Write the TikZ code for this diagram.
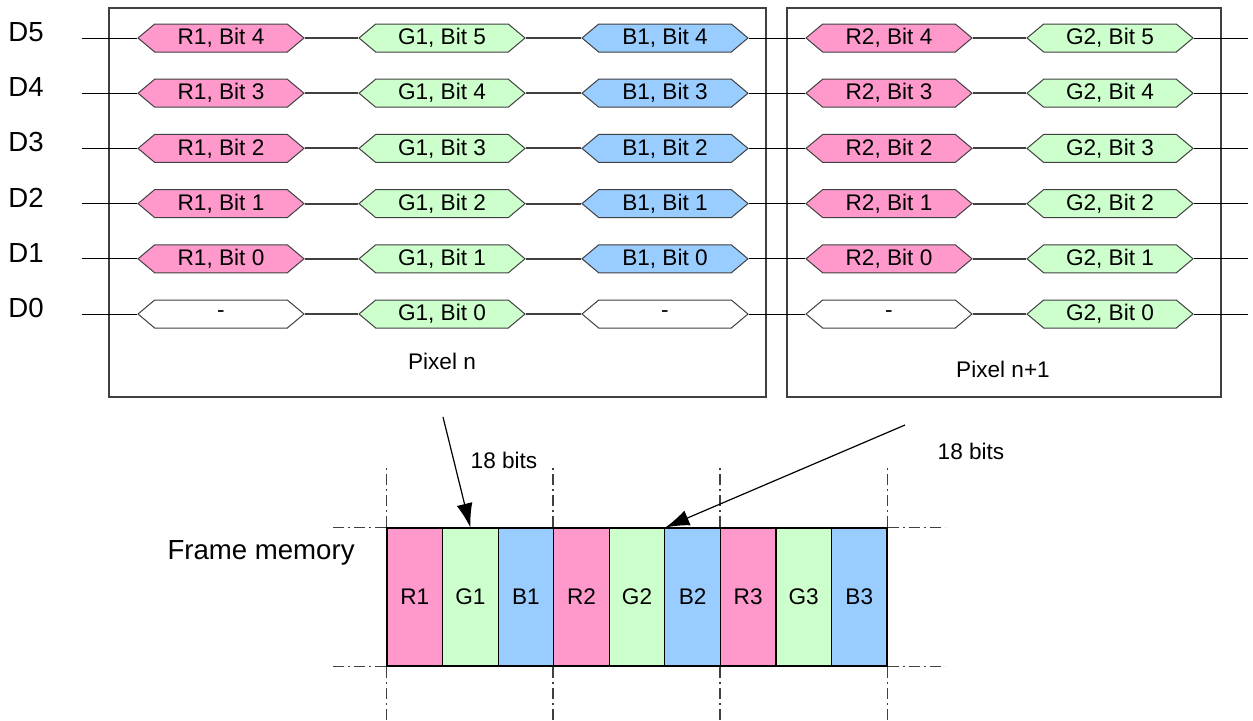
\documentclass[tikz,border=0pt]{standalone}
\usepackage{fontspec}
\setmainfont{Liberation Sans}
\usetikzlibrary{shapes.symbols,arrows.meta}
\definecolor{redbit}{HTML}{FF99CC}
\definecolor{greenbit}{HTML}{CCFFCC}
\definecolor{bluebit}{HTML}{99CCFF}
\definecolor{edge}{HTML}{404040}

\begin{document}
\begin{tikzpicture}[x=0.5pt, y=-0.5pt,
  bit/.style={shape=signal, signal to=east and west, signal pointer angle=80, draw=edge, line width=0.5pt, fill=#1, minimum width=83pt, minimum height=14pt, inner sep=0pt, font=\fontsize{11.3}{13}\selectfont},
  pixbox/.style={draw=edge, line width=0.6pt, minimum width=#1, minimum height=194.5pt, inner sep=0pt},
  cell/.style={draw=black, line width=0.6pt, fill=#1, minimum width=27.78pt, minimum height=69pt, inner sep=0pt, font=\fontsize{11.3}{13}\selectfont},
  wire/.style={line width=0.5pt},
  bus/.style={line width=1pt, draw=edge},
  guide/.style={draw=edge, line width=0.8pt, dash pattern=on 5.5pt off 2pt on 1pt off 2pt},
  ptr/.style={-{Latex[length=12pt,width=8pt]}, line width=0.6pt},
  lbl/.style={font=\fontsize{11.3}{13}\selectfont},
  big/.style={font=\fontsize{13.8}{16}\selectfont, inner sep=0pt}
]
\useasboundingbox (0,0) rectangle (1253,720);

% Pixel frames
\node[pixbox=328.5pt] (pixn) at (437.5,202.5) {};
\node[pixbox=217pt] (pixnn) at (1004,202.5) {};
\node[lbl] (pixnlbl) at (442,361) {Pixel n};
\node[lbl] (pixnnlbl) at (1003,369) {Pixel n+1};

% Data lines D5 .. D1
\foreach \d in {1,...,5} {
  \pgfmathtruncatemacro\lo{\d-1}
  \pgfmathsetmacro\y{38+(5-\d)*55.2}
  \node[big] (d\d) at (26,\y-6) {D\d};
  \coordinate (in\d) at (82,\y);
  \coordinate (out\d) at (1248,\y);
  \node[bit=redbit] (ra\d) at (221,\y) {R1, Bit \lo};
  \node[bit=greenbit] (ga\d) at (442,\y) {G1, Bit \d};
  \node[bit=bluebit] (ba\d) at (665,\y) {B1, Bit \lo};
  \node[bit=redbit] (rb\d) at (889,\y) {R2, Bit \lo};
  \node[bit=greenbit] (gb\d) at (1110,\y) {G2, Bit \d};
  \draw[wire] (in\d) -- (ra\d.west);
  \draw[bus] (ra\d.east) -- (ga\d.west);
  \draw[bus] (ga\d.east) -- (ba\d.west);
  \draw[wire] (ba\d.east) -- (rb\d.west);
  \draw[bus] (rb\d.east) -- (gb\d.west);
  \draw[wire] (gb\d.east) -- (out\d);
}

% Data line D0
\node[big] (d0) at (26,308) {D0};
\coordinate (in0) at (82,314);
\coordinate (out0) at (1248,314);
\node[bit=white] (ra0) at (221,314) {-};
\node[bit=greenbit] (ga0) at (442,314) {G1, Bit 0};
\node[bit=white] (ba0) at (665,314) {-};
\node[bit=white] (rb0) at (889,314) {-};
\node[bit=greenbit] (gb0) at (1110,314) {G2, Bit 0};
\draw[wire] (in0) -- (ra0.west);
\draw[bus] (ra0.east) -- (ga0.west);
\draw[bus] (ga0.east) -- (ba0.west);
\draw[wire] (ba0.east) -- (rb0.west);
\draw[bus] (rb0.east) -- (gb0.west);
\draw[wire] (gb0.east) -- (out0);

% Frame memory
\node[big, anchor=east] (fm) at (355,553) {Frame memory};
\foreach \col/\t [count=\i] in {redbit/R1,greenbit/G1,bluebit/B1,redbit/R2,greenbit/G2,bluebit/B2,redbit/R3,greenbit/G3,bluebit/B3}
  \node[cell=\col] (c\i) at ({387+(\i-0.5)*55.56},597) {\t};

% Guide lines
\foreach \i in {1,4,7} {
  \draw[guide] (c\i.north west) -- ++(0,-60);
  \draw[guide] (c\i.south west) -- ++(0,54);
}
\draw[guide] (c9.north east) -- ++(0,-60);
\draw[guide] (c9.south east) -- ++(0,54);
\draw[guide] (c1.north west) -- ++(-55,0);
\draw[guide] (c1.south west) -- ++(-56,0);
\draw[guide] (c9.north east) -- ++(57,0);
\draw[guide] (c9.south east) -- ++(57,0);

% 18 bit arrows
\coordinate (from1) at (443,417);
\coordinate (from2) at (905,425);
\draw[ptr] (from1) -- (c2.north);
\draw[ptr] (from2) -- (c5.north east);
\node[lbl] (bits1) at (504,460) {18 bits};
\node[lbl] (bits2) at (971,451) {18 bits};

\end{tikzpicture}
\end{document}
